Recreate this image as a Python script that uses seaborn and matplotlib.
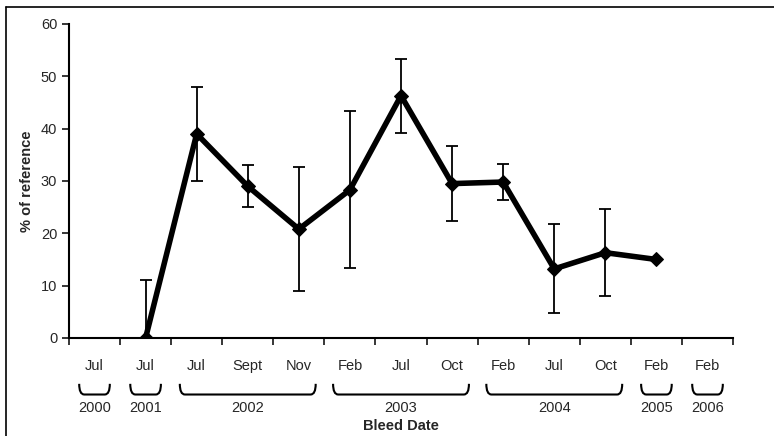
import numpy as np
import pandas as pd
import matplotlib
matplotlib.use("Agg")
import matplotlib.pyplot as plt
import seaborn as sns
from matplotlib.path import Path
from matplotlib.patches import PathPatch
import matplotlib.transforms as mtransforms

# data
months = ["Jul", "Jul", "Jul", "Sept", "Nov", "Feb", "Jul", "Oct",
          "Feb", "Jul", "Oct", "Feb", "Feb"]
values = [np.nan, 0, 39, 29, 20.8, 28.3, 46.3, 29.5, 29.8, 13.2, 16.3, 15, np.nan]
errors = [np.nan, 11, 9, 4, 11.9, 15, 7.1, 7.1, 3.4, 8.5, 8.3, np.nan, np.nan]
years = ["2000", "2001", "2002", "2003", "2004", "2005", "2006"]
year_first = [0, 1, 2, 5, 8, 11, 12]
year_last = [0, 1, 4, 7, 10, 11, 12]

df = pd.DataFrame({"pos": np.arange(len(months)), "value": values, "err": errors})

sns.set_style("white")
plt.rcParams["font.family"] = ["Liberation Sans", "DejaVu Sans"]
fs = 10.5

fig = plt.figure(figsize=(7.74, 4.36), dpi=100)
ax = fig.add_axes([0.0891, 0.2248, 0.858, 0.7202])

# error bars first, then the thick line on top
d = df.dropna(subset=["err"])
ax.errorbar(d["pos"], d["value"], yerr=d["err"], fmt="none", ecolor="black",
            elinewidth=1.3, capsize=4, capthick=1.3, zorder=2)
sns.lineplot(data=df.dropna(subset=["value"]), x="pos", y="value", color="black",
             linewidth=4, marker="D", markersize=7.5, markeredgecolor="black",
             ax=ax, zorder=3)

ax.set_xlim(-0.5, len(months) - 0.5)
ax.set_ylim(0, 60)
ax.set_yticks(range(0, 61, 10))
ax.tick_params(axis="y", labelsize=fs, length=5, width=1.3, direction="out", left=True)

# ticks on category boundaries, labels centred in categories
ax.set_xticks(np.arange(len(months) + 1) - 0.5)
ax.set_xticklabels([])
ax.set_xticks(np.arange(len(months)), minor=True)
ax.set_xticklabels(months, minor=True, fontsize=fs)
ax.tick_params(axis="x", which="major", length=5, width=1.3, direction="out", bottom=True)
ax.tick_params(axis="x", which="minor", length=0, pad=15)

for s in ["top", "right"]:
    ax.spines[s].set_visible(False)
for s in ["left", "bottom"]:
    ax.spines[s].set_linewidth(1.5)
    ax.spines[s].set_color("black")

ax.set_ylabel("% of reference", fontsize=fs, fontweight="bold", labelpad=5)
ax.set_xlabel("")

trans = mtransforms.blended_transform_factory(ax.transData, ax.transAxes)
ax.text(6, -0.28, "Bleed Date", transform=trans,
        ha="center", va="center", fontsize=fs, fontweight="bold")

# year brackets
top, bot, r = -0.146, -0.18, 0.1
for yr, a, b in zip(years, year_first, year_last):
    x0, x1 = a - 0.33, b + 0.33
    if a == b:
        x0, x1 = a - 0.3, b + 0.3
    verts = [(x0, top), (x0, bot), (x0 + r, bot),
             (x1 - r, bot), (x1, bot), (x1, top)]
    codes = [Path.MOVETO, Path.CURVE3, Path.CURVE3,
             Path.LINETO, Path.CURVE3, Path.CURVE3]
    ax.add_patch(PathPatch(Path(verts, codes), fill=False, lw=1.5, ec="black",
                           transform=trans, clip_on=False))
    ax.text((a + b) / 2, -0.222, yr, transform=trans, ha="center", va="center", fontsize=fs)

# figure frame (left and top edges visible)
fig.add_artist(plt.Line2D([6 / 774, 6 / 774], [0, 1 - 7 / 436], color="black", lw=1.2))
fig.add_artist(plt.Line2D([6 / 774, 1], [1 - 7 / 436, 1 - 7 / 436], color="black", lw=1.2))

fig.savefig("out.png", dpi=100)
